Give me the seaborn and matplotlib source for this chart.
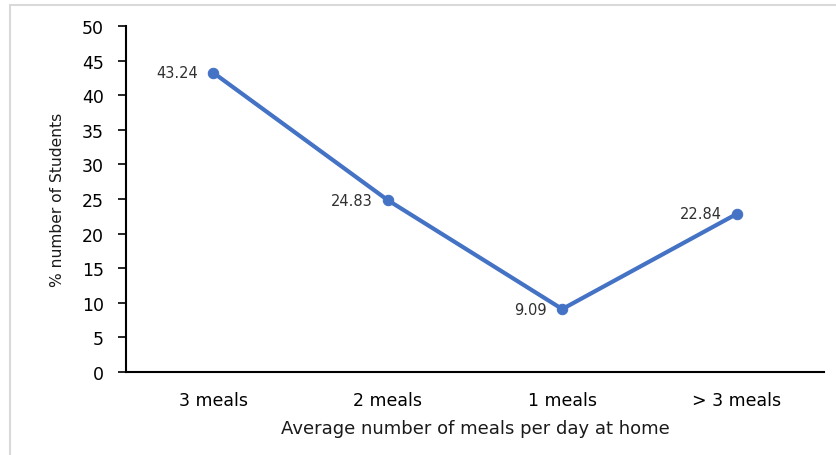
import matplotlib
matplotlib.use("Agg")
import matplotlib.pyplot as plt
import seaborn as sns
import pandas as pd
from matplotlib.patches import Rectangle

categories = ["3 meals", "2 meals", "1 meals", "> 3 meals"]
percent_students = [43.24, 24.83, 9.09, 22.84]
y_ticks = [0, 5, 10, 15, 20, 25, 30, 35, 40, 45, 50]

sns.set_style("white")
plt.rcParams["font.family"] = ["DejaVu Sans"]

df = pd.DataFrame({"meals": categories, "pct": percent_students})

fig = plt.figure(figsize=(8.37, 4.56), dpi=100)
ax = fig.add_axes([0.1505, 0.182, 0.834, 0.759])

# light frame around the whole chart
fig.patches.append(Rectangle((10 / 837, -0.02), 1.0, 1 - 6 / 456 + 0.02,
                             transform=fig.transFigure, fill=False,
                             edgecolor="#d9d9d9", linewidth=1.5))

blue = "#4472C4"
sns.lineplot(data=df, x="meals", y="pct", ax=ax, color=blue, linewidth=3.0,
             marker="o", markersize=7.5, markeredgecolor=blue, sort=False)

for i, v in enumerate(percent_students):
    ax.annotate(f"{v:.2f}", (i, v), xytext=(-11, 0), textcoords="offset points",
                ha="right", va="center", fontsize=10.5, color="#303030")

ax.set_xlim(-0.5, 3.5)
ax.set_ylim(0, 50)
ax.set_yticks(y_ticks)
ax.tick_params(axis="y", direction="out", length=6, width=1.2, left=True,
               labelsize=12.5, labelcolor="black", color="black", pad=10)
ax.tick_params(axis="x", length=0, labelsize=12.5, labelcolor="black", pad=14)
for s in ["top", "right"]:
    ax.spines[s].set_visible(False)
for s in ["left", "bottom"]:
    ax.spines[s].set_color("black")
    ax.spines[s].set_linewidth(1.5)

ax.set_xlabel("Average number of meals per day at home", fontsize=13,
              labelpad=7, color="#1a1a1a")
ax.set_ylabel("% number of Students", fontsize=11.2, labelpad=12,
              color="#1a1a1a")

fig.savefig("out.png", dpi=100)
